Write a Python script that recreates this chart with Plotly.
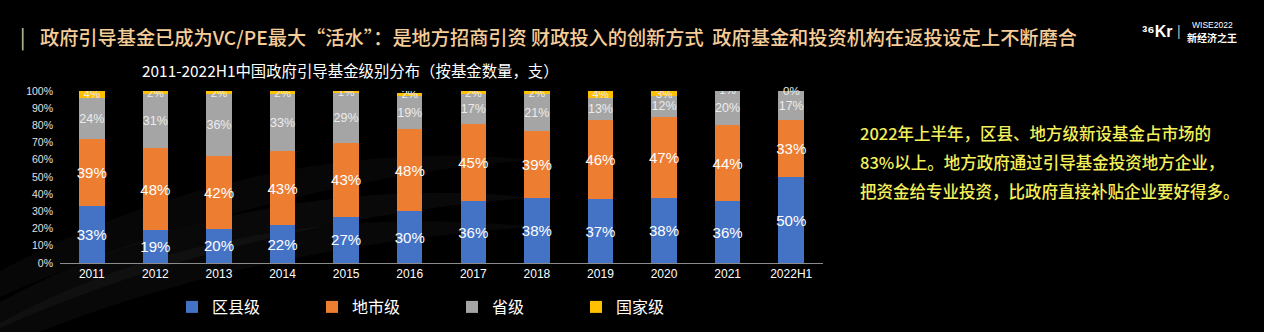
import plotly.graph_objects as go

# 引导基金级别分布（按基金数量，%）
years = ["2011", "2012", "2013", "2014", "2015", "2016", "2017", "2018",
         "2019", "2020", "2021", "2022H1"]
county = [33, 19, 20, 22, 27, 30, 36, 38, 37, 38, 36, 50]      # 区县级
city = [39, 48, 42, 43, 43, 48, 45, 39, 46, 47, 44, 33]        # 地市级
province = [24, 31, 36, 33, 29, 19, 17, 21, 13, 12, 20, 17]    # 省级
national = [4, 2, 2, 2, 1, 2, 2, 2, 4, 3, 1, 0]                # 国家级

y_ticks = [0, 10, 20, 30, 40, 50, 60, 70, 80, 90, 100]

series = [
    ("区县级", county, "#4472C4", 15),
    ("地市级", city, "#ED7D31", 15),
    ("省级", province, "#A5A5A5", 12.5),
    ("国家级", national, "#FFC000", 11.5),
]

NUM_FONT = "Liberation Sans, Arial, Noto Sans CJK SC, sans-serif"
CJK_FONT = "Noto Sans CJK SC, sans-serif"

W, H = 1264, 332
ML, MR, MT, MB = 60, 441, 91, 69
PW, PH = W - ML - MR, H - MT - MB


def px_x(x):
    """page pixel -> plot-area paper fraction (horizontal)"""
    return (x - ML) / PW


def px_y(y):
    """page pixel (from top) -> plot-area paper fraction (vertical)"""
    return (H - MB - y) / PH


# each legend entry sits in its own legend box, spread along one row
legend_x = [172, 312, 452, 576]
legend_names = ["legend", "legend2", "legend3", "legend4"]

fig = go.Figure()
for (name, vals, color, fsize), lg in zip(series, legend_names):
    fig.add_trace(go.Bar(
        x=years, y=vals, name=name, legend=lg,
        marker=dict(color=color, line=dict(width=0)),
        text=[f"{v}%" for v in vals],
        textposition="inside",
        insidetextanchor="middle",
        constraintext="none",
        textangle=0,
        textfont=dict(family=NUM_FONT, size=fsize,
                      color="#ffffff" if fsize > 13 else "#ececec"),
        hoverinfo="skip",
    ))

legend_common = dict(
    orientation="h", xanchor="left", yanchor="middle", y=px_y(307),
    font=dict(family=CJK_FONT, size=16, color="#ffffff"),
    bgcolor="rgba(0,0,0,0)", itemclick=False, itemdoubleclick=False,
)
legend_layout = {lg: dict(legend_common, x=px_x(lx)) for lg, lx in zip(legend_names, legend_x)}

fig.update_layout(
    width=W, height=H,
    barmode="stack", bargap=0.6,
    paper_bgcolor="#000000", plot_bgcolor="rgba(0,0,0,0)",
    margin=dict(l=ML, r=MR, t=MT, b=MB, autoexpand=False),
    font=dict(family=CJK_FONT, color="#ffffff"),
    showlegend=True,
    xaxis=dict(
        showgrid=False, zeroline=False, showline=True, linecolor="#8c8c8c",
        linewidth=1, ticks="", tickfont=dict(family=NUM_FONT, size=12, color="#ffffff"),
        fixedrange=True, automargin=False,
    ),
    yaxis=dict(
        range=[0, 100], tickvals=y_ticks, ticktext=[f"{t}%" for t in y_ticks],
        showgrid=False, zeroline=False, showline=False,
        tickfont=dict(family=NUM_FONT, size=10.5, color="#e0e0e0"),
        ticklabelstandoff=6, fixedrange=True, automargin=False,
    ),
    **legend_layout,
)

# faint background streaks on the lower left
for (y0, y1, op) in [(0.30, 0.55, 0.035), (0.12, 0.33, 0.045), (0.0, 0.16, 0.04)]:
    fig.add_shape(
        type="path", xref="paper", yref="paper", layer="below",
        path=(f"M -0.08 {y0 - 0.35} C 0.15 {y0 + 0.2}, 0.4 {y1 + 0.15}, 0.62 {y1 + 0.05} "
              f"C 0.4 {y1 - 0.02}, 0.15 {y0 - 0.05}, -0.08 {y0 - 0.5} Z"),
        fillcolor=f"rgba(200,200,200,{op})", line=dict(width=0),
    )

annotations = []

# zero-height segments get their label placed at the top of the stack
for i, v in enumerate(national):
    if v == 0:
        annotations.append(dict(
            text=f"{v}%", x=years[i], y=county[i] + city[i] + province[i] + v,
            xref="x", yref="y", yanchor="middle", showarrow=False,
            font=dict(family=NUM_FONT, size=11.5, color="#ececec"),
        ))

page_texts = [
    # page heading
    dict(text="|", x=22, y=36, xanchor="center",
         font=dict(size=20, color="#e9c59a", family=CJK_FONT)),
    dict(text="政府引导基金已成为VC/PE最大“活水”：是地方招商引资 财政投入的创新方式&nbsp;&nbsp;政府基金和投资机构在返投设定上不断磨合",
         x=38, y=37, xanchor="left",
         font=dict(size=19.2, color="#f5cd98", family=CJK_FONT, weight=500)),
    # chart title
    dict(text="2011-2022H1中国政府引导基金级别分布（按基金数量，支）",
         x=350, y=70, xanchor="center",
         font=dict(size=15.4, color="#ffffff", family=CJK_FONT)),
    # brand mark
    dict(text="<b>³⁶Kr</b>", x=1157, y=31, xanchor="center",
         font=dict(size=16, color="#ffffff", family=NUM_FONT)),
    dict(text="|", x=1179, y=31, xanchor="center",
         font=dict(size=14, color="#bbbbbb", family=NUM_FONT)),
    dict(text="WISE2022", x=1212, y=25, xanchor="center",
         font=dict(size=8.5, color="#ffffff", family=NUM_FONT)),
    dict(text="<b>新经济之王</b>", x=1212, y=37, xanchor="center",
         font=dict(size=10, color="#ffffff", family=CJK_FONT)),
]

side_lines = [
    "2022年上半年，区县、地方级新设基金占市场的",
    "83%以上。地方政府通过引导基金投资地方企业，",
    "把资金给专业投资，比政府直接补贴企业要好得多。",
]
for i, line in enumerate(side_lines):
    page_texts.append(dict(
        text=line, x=858, y=133 + 29 * i, xanchor="left",
        font=dict(size=16.5, color="#f4f05a", family=CJK_FONT, weight=500),
    ))

for t in page_texts:
    t.update(x=px_x(t["x"]), y=px_y(t["y"]), xref="paper", yref="paper",
             yanchor="middle", showarrow=False)
    annotations.append(t)

fig.update_layout(annotations=annotations)

fig.write_html("out.html", config={"displayModeBar": False})
